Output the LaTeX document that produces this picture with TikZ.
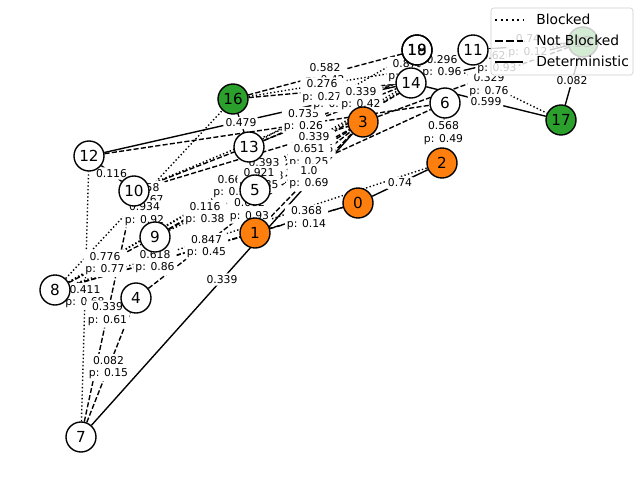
\documentclass[tikz,border=0pt]{standalone}
\usepackage{fontspec}
\setmainfont{DejaVu Sans}
\usepackage{xcolor}
\definecolor{taborange}{HTML}{FF7F0E}
\definecolor{tabgreen}{HTML}{2CA02C}
\pgfdeclarelayer{edgelayer}
\pgfdeclarelayer{labellayer}
\pgfsetlayers{edgelayer,labellayer,main}

% edge with its label: style, from, to, text
\newcommand{\conn}[4]{%
  \begin{pgfonlayer}{edgelayer}\draw[#1] (#2) -- (#3);\end{pgfonlayer}%
  \begin{pgfonlayer}{labellayer}\path (#2) -- (#3) node[lbl] {#4};\end{pgfonlayer}}
% edge whose label is hidden
\newcommand{\bare}[3]{%
  \begin{pgfonlayer}{edgelayer}\draw[#1] (#2) -- (#3);\end{pgfonlayer}}

\begin{document}
\begin{tikzpicture} [
        x = 0.254mm, y = -0.254mm,
        vert/.style = { circle, draw, line width = 1pt, fill = white, minimum size = 7.62mm, inner sep = 0, font = \fontsize{11}{13}\selectfont },
        src/.style = { vert, fill = taborange },
        goal/.style = { vert, fill = tabgreen },
        determ/.style = { line width = 1pt },
        blocked/.style = { line width = 1pt, dash pattern = on 1pt off 1.65pt },
        notblocked/.style = { line width = 1pt, dash pattern = on 3.7pt off 1.6pt },
        lbl/.style = { midway, fill = white, rounded corners = 2pt, inner sep = 1.5pt, align = center, font = \fontsize{7.8}{9.2}\selectfont },
        legtext/.style = { anchor = west, inner sep = 0, font = \fontsize{10}{12}\selectfont }
        ]
        \useasboundingbox (0,0) rectangle (640,480);

        \node [src] (n0) at (358,203) {0};
        \node [src] (n1) at (255,233) {1};
        \node [src] (n2) at (442,163) {2};
        \node [src] (n3) at (363,122) {3};
        \node [vert] (n4) at (136,298) {4};
        \node [vert] (n5) at (255,190) {5};
        \node [vert] (n6) at (445,103) {6};
        \node [vert] (n7) at (81,437) {7};
        \node [vert] (n8) at (55,290) {8};
        \node [vert] (n9) at (155,237) {9};
        \node [vert] (n10) at (134,191) {10};
        \node [vert] (n11) at (473,50) {11};
        \node [vert] (n12) at (89,156) {12};
        \node [vert] (n13) at (249,147) {13};
        \node [vert] (n14) at (411,83) {14};
        \node [goal] (n15) at (583,42) {15};
        \node [goal] (n16) at (233,99) {16};
        \node [goal] (n17) at (561,120) {17};
        \node [vert] (n18) at (417,50) {18};
        \node [vert, fill = none] (n19) at (417,50) {19};

        % blocked
        \conn{blocked}{n7}{n12}{0.411\\p: 0.68}
        \conn{blocked}{n8}{n16}{0.558\\p: 0.67}
        \conn{blocked}{n8}{n14}{0.668\\p: 0.35}
        \conn{blocked}{n8}{n11}{0.393\\p: 0.68}
        \conn{blocked}{n9}{n5}{0.116\\p: 0.38}
        \conn{blocked}{n10}{n11}{0.735\\p: 0.26}
        \conn{blocked}{n13}{n18}{0.546\\p: 0.46}
        \conn{blocked}{n16}{n15}{0.875\\p: 0.75}
        \conn{blocked}{n19}{n17}{0.329\\p: 0.76}
        \conn{blocked}{n14}{n11}{0.296\\p: 0.96}
        \bare{blocked}{n8}{n2}
        % not blocked
        \conn{notblocked}{n16}{n18}{0.582\\p: 0.42}
        \conn{notblocked}{n16}{n14}{0.276\\p: 0.27}
        \conn{notblocked}{n9}{n11}{0.339\\p: 0.85}
        \conn{notblocked}{n5}{n3}{0.651\\p: 0.25}
        \conn{notblocked}{n1}{n3}{1.0\\p: 0.69}
        \conn{notblocked}{n8}{n0}{0.847\\p: 0.45}
        \conn{notblocked}{n1}{n0}{0.368\\p: 0.14}
        \conn{notblocked}{n8}{n9}{0.776\\p: 0.77}
        \conn{notblocked}{n7}{n10}{0.339\\p: 0.61}
        \conn{notblocked}{n7}{n4}{0.082\\p: 0.15}
        \conn{notblocked}{n10}{n9}{0.934\\p: 0.92}
        \conn{notblocked}{n8}{n1}{0.618\\p: 0.86}
        \conn{notblocked}{n4}{n3}{0.062\\p: 0.93}
        \conn{notblocked}{n9}{n3}{0.921\\p: 0.35}
        \conn{notblocked}{n13}{n11}{0.339\\p: 0.42}
        \conn{notblocked}{n6}{n2}{0.568\\p: 0.49}
        \bare{notblocked}{n10}{n3}
        \bare{notblocked}{n10}{n14}
        \bare{notblocked}{n12}{n6}
        \bare{notblocked}{n5}{n6}
        \bare{notblocked}{n3}{n15}
        % deterministic
        \conn{determ}{n0}{n2}{0.74}
        \conn{determ}{n13}{n16}{0.479}
        \conn{determ}{n7}{n3}{0.339}
        \conn{determ}{n12}{n10}{0.116}
        \conn{determ}{n14}{n17}{0.599}
        \conn{determ}{n17}{n15}{0.082}
        \conn{determ}{n14}{n15}{0.626\\p: 0.93}
        \conn{determ}{n11}{n15}{0.74\\p: 0.12}
        \bare{determ}{n12}{n14}

        % legend
        \coordinate (legNW) at (491,8);
        \coordinate (legSE) at (633,75);
        \draw [draw = black!20, fill = white, fill opacity = 0.8, rounded corners = 2pt] (legNW) rectangle (legSE);
        \coordinate (kb) at (495,20);
        \coordinate (kn) at (495,41);
        \coordinate (kd) at (495,62);
        \draw [line width = 1.5pt, dash pattern = on 1.5pt off 2.5pt] (kb) -- ++(28,0);
        \draw [line width = 1.5pt, dash pattern = on 5.5pt off 2.4pt] (kn) -- ++(28,0);
        \draw [line width = 1.5pt] (kd) -- ++(28,0);
        \node [legtext] (tb) at (536,19) {Blocked};
        \node [legtext] (tn) at (536,40) {Not Blocked};
        \node [legtext] (td) at (536,61) {Deterministic};
    \end{tikzpicture}
\end{document}
